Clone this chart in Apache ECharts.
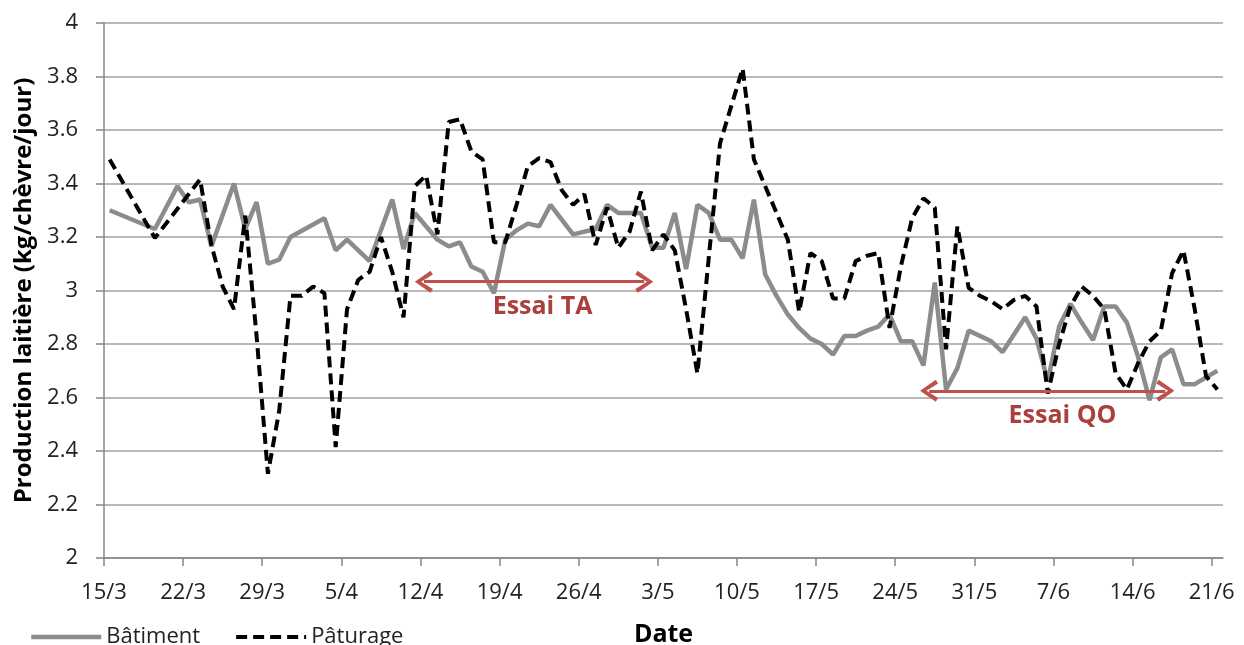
<!DOCTYPE html>
<html>
<head>
<meta charset="utf-8">
<title>Production laitière</title>
<script src="https://cdn.jsdelivr.net/npm/echarts@6/dist/echarts.min.js"></script>
<style>
  html, body { margin: 0; padding: 0; background: #fff; }
  #main { width: 1244px; height: 645px; }
</style>
</head>
<body>
<div id="main"></div>
<script>
// day index counted from 15/3 (0) to 21/6 (98); each day sits in the middle of its slot
const tickLabels = ["15/3", "22/3", "29/3", "5/4", "12/4", "19/4", "26/4", "3/5",
  "10/5", "17/5", "24/5", "31/5", "7/6", "14/6", "21/6"];

const batimentDays = [0, 4, 6, 7, 8, 9, 11, 12, 13, 14, 15, 16, 19, 20, 21, 23, 25, 26, 27,
  29, 30, 31, 32, 33, 34, 35, 36, 37, 38, 39, 41, 43, 44, 45, 47, 48, 49, 50, 51, 52, 53,
  54, 55, 56, 57, 58, 59, 60, 61, 62, 63, 64, 65, 66, 67, 68, 69, 70, 71, 72, 73, 74, 75,
  76, 78, 79, 81, 82, 83, 84, 85, 86, 87, 88, 89, 90, 91, 92, 93, 94, 95, 96, 98];
const batimentVals = [3.30, 3.23, 3.39, 3.33, 3.34, 3.165, 3.40, 3.23, 3.33, 3.10, 3.115, 3.20,
  3.27, 3.15, 3.19, 3.11, 3.34, 3.155, 3.29, 3.19, 3.165, 3.18, 3.09, 3.07, 2.99, 3.19,
  3.225, 3.25, 3.24, 3.32, 3.21, 3.23, 3.32, 3.29, 3.29, 3.16, 3.16, 3.29, 3.08, 3.32,
  3.29, 3.19, 3.19, 3.12, 3.34, 3.06, 2.98, 2.91, 2.86, 2.82, 2.80, 2.76, 2.83, 2.83,
  2.85, 2.865, 2.91, 2.81, 2.81, 2.72, 3.03, 2.63, 2.71, 2.85, 2.81, 2.77, 2.90, 2.82,
  2.66, 2.865, 2.95, 2.88, 2.815, 2.94, 2.94, 2.88, 2.75, 2.59, 2.75, 2.78, 2.65, 2.65, 2.70];

const paturageDays = [0, 4, 8, 9, 10, 11, 12, 13, 14, 15, 16, 17, 18, 19, 20, 21, 22, 23, 24,
  25, 26, 27, 28, 29, 30, 31, 32, 33, 34, 35, 36, 37, 38, 39, 40, 41, 42, 43, 44, 45, 46,
  47, 48, 49, 50, 51, 52, 54, 55, 56, 57, 58, 59, 60, 61, 62, 63, 64, 65, 66, 67, 68, 69,
  70, 71, 72, 73, 74, 75, 76, 77, 78, 79, 80, 81, 82, 83, 84, 85, 86, 87, 88, 89, 90, 91,
  92, 93, 94, 95, 96, 97, 98];
const paturageVals = [3.49, 3.196, 3.415, 3.17, 3.015, 2.93, 3.28, 2.83, 2.315, 2.55, 2.98,
  2.98, 3.015, 2.99, 2.415, 2.93, 3.04, 3.07, 3.20, 3.07, 2.90, 3.39, 3.43, 3.21, 3.63,
  3.64, 3.52, 3.49, 3.18, 3.18, 3.32, 3.465, 3.495, 3.48, 3.375, 3.32, 3.36, 3.17, 3.31,
  3.16, 3.22, 3.37, 3.15, 3.21, 3.15, 2.93, 2.69, 3.55, 3.69, 3.83, 3.49, 3.39, 3.29,
  3.19, 2.92, 3.14, 3.11, 2.97, 2.97, 3.11, 3.13, 3.14, 2.86, 3.09, 3.27, 3.345, 3.31,
  2.78, 3.24, 3.01, 2.98, 2.96, 2.93, 2.965, 2.98, 2.94, 2.615, 2.80, 2.94, 3.015, 2.98,
  2.93, 2.69, 2.63, 2.73, 2.81, 2.85, 3.065, 3.15, 2.93, 2.68, 2.63];

// trial periods: [from day, to day, level]
const essaiTA = [28.3, 47.8, 3.033];
const essaiQO = [73.0, 93.9, 2.625];

const tickDays = tickLabels.map((l, i) => i * 7);

function pairs(days, vals) {
  return days.map((d, i) => [d + 0.5, vals[i]]);
}

const arrowHead = "path://M5,0 L10,8 L8.3,9.2 L5,3.2 L1.7,9.2 L0,8 Z";
const red = "#c0504d";
const font = "Open Sans";

var chart = echarts.init(document.getElementById("main"), null, {renderer: "canvas"});
chart.setOption({
  animation: false,
  textStyle: {fontFamily: font},
  grid: {left: 104, right: 21, top: 23, bottom: 87, containLabel: false, outerBoundsMode: "none"},
  legend: {
    left: 24,
    top: 621,
    itemWidth: 70,
    itemHeight: 14,
    itemGap: 34,
    itemStyle: {opacity: 0},
    textStyle: {fontSize: 22, color: "#222", fontFamily: font},
    data: [
      {name: "Bâtiment", lineStyle: {width: 4.5, color: "#8c8c8c"}},
      {name: "Pâturage", lineStyle: {width: 4, color: "#000", type: [11, 6]}}
    ]
  },
  xAxis: {
    type: "value",
    min: 0,
    max: 99,
    interval: 7,
    name: "Date",
    nameLocation: "middle",
    nameGap: 64,
    nameTextStyle: {fontSize: 25, fontWeight: "bold", color: "#000"},
    axisLine: {lineStyle: {color: "#868686", width: 1.5}},
    axisTick: {show: true, length: 8, customValues: tickDays, lineStyle: {color: "#868686", width: 1.5}},
    axisLabel: {
      customValues: tickDays,
      margin: 24,
      fontSize: 22,
      color: "#222",
      formatter: function (v) { return tickLabels[Math.round(v / 7)] || ""; }
    },
    splitLine: {show: false}
  },
  yAxis: {
    type: "value",
    min: 2,
    max: 4,
    interval: 0.2,
    name: "Production laitière (kg/chèvre/jour)",
    nameLocation: "middle",
    nameGap: 68,
    nameTextStyle: {fontSize: 24, fontWeight: "bold", color: "#000"},
    axisLine: {show: true, lineStyle: {color: "#868686", width: 1.5}},
    axisTick: {show: true, length: 8, lineStyle: {color: "#868686", width: 1.5}},
    axisLabel: {margin: 26, fontSize: 22, color: "#222"},
    splitLine: {lineStyle: {color: "#a0a0a0", width: 1.5}}
  },
  series: [
    {
      name: "Bâtiment",
      type: "line",
      symbol: "none",
      data: pairs(batimentDays, batimentVals),
      lineStyle: {color: "#8c8c8c", width: 4.5},
      itemStyle: {color: "#8c8c8c"},
      z: 2
    },
    {
      name: "Pâturage",
      type: "line",
      symbol: "none",
      data: pairs(paturageDays, paturageVals),
      lineStyle: {color: "#000", width: 4, type: [11, 6]},
      itemStyle: {color: "#000"},
      z: 3,
      markLine: {
        silent: true,
        symbol: [arrowHead, arrowHead],
        symbolSize: [22, 18],
        lineStyle: {color: red, width: 3, type: "solid"},
        itemStyle: {color: red},
        label: {show: false},
        data: [
          [{coord: [essaiTA[0], essaiTA[2]]}, {coord: [essaiTA[1], essaiTA[2]]}],
          [{coord: [essaiQO[0], essaiQO[2]]}, {coord: [essaiQO[1], essaiQO[2]]}]
        ]
      },
      markPoint: {
        silent: true,
        symbol: "circle",
        symbolSize: 0,
        label: {
          show: true,
          formatter: "{b}",
          fontSize: 25,
          fontWeight: "bold",
          color: "#a9403c",
          fontFamily: font
        },
        data: [
          {name: "Essai TA", coord: [38.8, 2.94]},
          {name: "Essai QO", coord: [84.8, 2.53]}
        ]
      }
    }
  ]
});
</script>
</body>
</html>
